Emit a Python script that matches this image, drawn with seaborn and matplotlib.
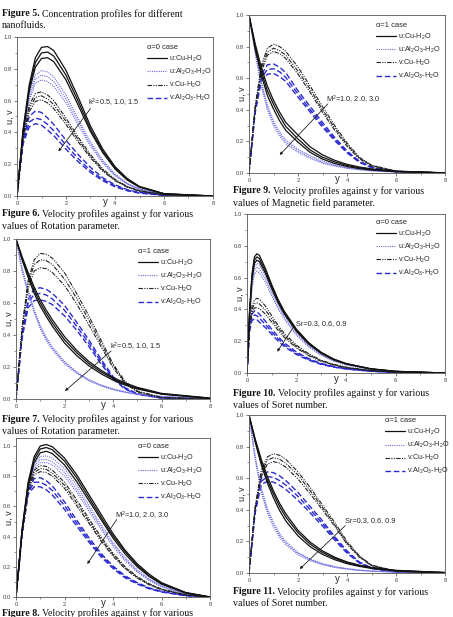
import matplotlib
matplotlib.use('Agg')
import matplotlib.pyplot as plt
import seaborn as sns
from matplotlib.lines import Line2D
from matplotlib.ticker import MultipleLocator

# ---- data (three curves per group, top to bottom) ----
# grids
y16 = [0, 0.25, 0.5, 0.75, 1, 1.25, 1.5, 2, 2.5, 3, 3.5, 4, 4.5, 5, 6, 8]
yD = [0, 0.1, 0.2, 0.3, 0.4, 0.5, 0.75, 1, 1.25, 1.5, 2, 2.5, 3, 3.5, 4, 5, 6, 8]
yE = [0, 0.25, 0.5, 0.75, 1, 1.25, 1.5, 2, 2.5, 3, 3.5, 4, 4.5, 5, 5.5, 6, 7, 8]

# panel A: alpha=0, k^2 = 0.5, 1.0, 1.5
A_uCu = [[0, .42, .70, .87, .935, .94, .915, .79, .62, .44, .295, .185, .11, .06, .015, 0],
         [0, .41, .68, .84, .90, .905, .88, .76, .595, .42, .283, .178, .105, .058, .014, 0],
         [0, .40, .66, .81, .865, .87, .845, .73, .57, .405, .272, .17, .10, .055, .013, 0]]
A_uAl = [[0, .40, .64, .76, .79, .78, .75, .635, .485, .34, .225, .138, .08, .045, .01, 0],
         [0, .39, .62, .735, .76, .75, .72, .61, .465, .327, .216, .132, .077, .043, .01, 0],
         [0, .38, .60, .71, .73, .72, .69, .585, .445, .313, .207, .127, .074, .041, .009, 0]]
A_vCu = [[0, .38, .57, .645, .655, .635, .60, .49, .37, .26, .17, .105, .06, .034, .008, 0],
         [0, .37, .55, .62, .63, .61, .575, .47, .355, .25, .163, .10, .058, .032, .008, 0],
         [0, .36, .53, .595, .605, .585, .55, .45, .34, .24, .156, .096, .055, .03, .007, 0]]
A_vAl = [[0, .36, .50, .535, .525, .49, .45, .35, .26, .18, .115, .07, .04, .022, .005, 0],
         [0, .34, .465, .49, .48, .45, .41, .32, .235, .16, .105, .064, .036, .02, .005, 0],
         [0, .33, .435, .455, .445, .415, .38, .295, .215, .148, .096, .058, .033, .018, .004, 0]]

# panel B: alpha=1, M^2 = 1.0, 2.0, 3.0
B_uCu = [[1, .82, .67, .55, .46, .385, .32, .24, .165, .115, .08, .055, .038, .026, .012, .001],
         [1, .80, .645, .52, .435, .36, .295, .215, .145, .10, .07, .048, .033, .022, .01, .001],
         [1, .785, .62, .49, .405, .33, .27, .195, .13, .088, .06, .041, .028, .019, .008, .001]]
B_uAl = [[1, .78, .58, .43, .33, .26, .21, .15, .11, .075, .052, .036, .025, .017, .008, .001],
         [1, .77, .565, .415, .315, .245, .197, .14, .10, .068, .047, .032, .022, .015, .007, .001],
         [1, .76, .55, .40, .30, .232, .185, .13, .092, .062, .043, .029, .02, .013, .006, .001]]
B_vCu = [[0, .42, .68, .79, .815, .80, .77, .67, .55, .42, .30, .19, .10, .05, .012, 0],
         [0, .41, .66, .765, .79, .775, .745, .645, .53, .40, .285, .18, .095, .047, .011, 0],
         [0, .40, .64, .745, .77, .755, .725, .625, .51, .385, .27, .17, .09, .044, .01, 0]]
B_vAl = [[0, .40, .62, .685, .69, .67, .635, .52, .42, .32, .225, .14, .075, .038, .009, 0],
         [0, .39, .60, .655, .66, .64, .605, .50, .40, .305, .215, .134, .072, .036, .008, 0],
         [0, .38, .58, .625, .63, .61, .58, .48, .385, .29, .205, .128, .068, .034, .008, 0]]

# panel C: alpha=1, k^2 = 0.5, 1.0, 1.5
C_uCu = [[1, .89, .79, .70, .62, .555, .495, .39, .305, .235, .18, .135, .10, .073, .035, .006],
         [1, .88, .775, .68, .60, .535, .475, .37, .29, .222, .17, .127, .094, .068, .032, .005],
         [1, .87, .76, .66, .58, .515, .455, .35, .272, .208, .158, .118, .087, .063, .03, .004]]
C_uAl = [[1, .82, .68, .56, .46, .385, .325, .235, .17, .122, .088, .063, .045, .032, .016, .003],
         [1, .81, .67, .55, .45, .375, .316, .228, .165, .118, .085, .061, .043, .031, .015, .002],
         [1, .80, .66, .54, .44, .365, .307, .22, .16, .114, .082, .058, .041, .029, .014, .002]]
C_vCu = [[0, .45, .74, .87, .91, .905, .88, .79, .66, .52, .37, .22, .11, .05, .01, 0],
         [0, .44, .72, .84, .87, .865, .84, .75, .63, .495, .35, .21, .105, .047, .009, 0],
         [0, .43, .69, .80, .82, .815, .79, .71, .595, .465, .33, .195, .098, .044, .008, 0]]
C_vAl = [[0, .40, .62, .69, .695, .685, .66, .585, .48, .37, .25, .14, .07, .033, .007, 0],
         [0, .39, .60, .655, .66, .65, .625, .555, .455, .35, .235, .133, .066, .031, .006, 0],
         [0, .38, .57, .615, .62, .61, .59, .52, .43, .33, .22, .125, .062, .029, .006, 0]]

# panel D: alpha=0, Sr = 0.3, 0.6, 0.9
D_uCu = [[0, .38, .62, .73, .75, .74, .655, .555, .465, .39, .275, .19, .13, .088, .06, .027, .011, 0],
         [0, .37, .60, .71, .73, .72, .64, .542, .455, .382, .268, .185, .127, .086, .058, .026, .01, 0],
         [0, .36, .585, .69, .71, .70, .625, .53, .445, .373, .262, .18, .123, .083, .057, .025, .01, 0]]
D_uAl = [[0, .35, .57, .67, .69, .68, .61, .52, .435, .365, .255, .175, .12, .08, .055, .024, .01, 0],
         [0, .34, .55, .645, .665, .655, .59, .502, .42, .352, .246, .168, .115, .077, .053, .023, .009, 0],
         [0, .33, .53, .62, .64, .63, .57, .485, .405, .34, .237, .162, .11, .074, .051, .022, .009, 0]]
D_vCu = [[0, .30, .42, .46, .47, .465, .42, .36, .30, .25, .175, .12, .08, .055, .037, .016, .006, 0],
         [0, .29, .40, .435, .44, .435, .395, .34, .285, .237, .166, .114, .077, .052, .035, .015, .006, 0],
         [0, .28, .38, .41, .41, .405, .37, .32, .27, .225, .157, .108, .073, .05, .033, .014, .005, 0]]
D_vAl = [[0, .28, .37, .39, .385, .37, .325, .275, .23, .19, .132, .09, .06, .041, .028, .012, .005, 0],
         [0, .27, .35, .365, .36, .345, .305, .258, .216, .178, .124, .085, .057, .039, .026, .011, .004, 0],
         [0, .26, .33, .34, .335, .32, .285, .242, .202, .167, .116, .08, .054, .037, .025, .011, .004, 0]]

# panel E: alpha=0, M^2 = 1.0, 2.0, 3.0
E_uCu = [[0, .45, .76, .93, 1.0, 1.01, .995, .92, .81, .68, .55, .42, .31, .22, .15, .095, .03, 0],
         [0, .44, .745, .91, .98, .99, .975, .90, .79, .66, .53, .405, .30, .21, .14, .09, .028, 0],
         [0, .43, .73, .89, .955, .965, .95, .875, .765, .64, .515, .39, .285, .20, .135, .085, .026, 0]]
E_uAl = [[0, .44, .74, .88, .93, .935, .92, .85, .74, .61, .48, .36, .26, .18, .12, .075, .022, 0],
         [0, .435, .73, .865, .91, .91, .895, .825, .715, .59, .465, .35, .25, .172, .113, .07, .02, 0],
         [0, .43, .72, .85, .89, .89, .875, .80, .695, .57, .45, .335, .24, .165, .108, .067, .019, 0]]
E_vCu = [[0, .43, .72, .84, .87, .865, .84, .76, .645, .52, .40, .29, .20, .135, .087, .053, .015, 0],
         [0, .425, .71, .825, .85, .845, .82, .74, .625, .505, .385, .28, .193, .13, .083, .05, .014, 0],
         [0, .42, .70, .81, .83, .825, .80, .72, .605, .49, .372, .27, .186, .125, .08, .048, .013, 0]]
E_vAl = [[0, .42, .70, .785, .79, .77, .735, .63, .51, .395, .29, .205, .14, .095, .06, .037, .01, 0],
         [0, .415, .69, .76, .76, .74, .705, .605, .49, .38, .278, .197, .133, .09, .057, .035, .009, 0],
         [0, .41, .68, .73, .73, .71, .675, .58, .47, .365, .267, .189, .127, .086, .054, .033, .009, 0]]

# panel F: alpha=1, Sr = 0.3, 0.6, 0.9
F_uCu = [[1, .85, .72, .61, .52, .44, .375, .27, .195, .14, .10, .07, .05, .035, .017, .003],
         [1, .84, .70, .59, .50, .42, .355, .255, .182, .13, .093, .065, .046, .032, .015, .003],
         [1, .83, .685, .57, .475, .395, .33, .235, .166, .118, .084, .059, .042, .029, .014, .002]]
F_uAl = [[1, .74, .54, .41, .32, .25, .20, .13, .088, .06, .041, .028, .019, .013, .006, .001],
         [1, .73, .525, .395, .305, .238, .19, .123, .083, .056, .038, .026, .017, .012, .005, .001],
         [1, .72, .51, .38, .29, .226, .18, .116, .078, .052, .035, .024, .016, .011, .005, .001]]
F_vCu = [[0, .42, .65, .735, .755, .745, .72, .64, .54, .43, .32, .2, .11, .05, .012, 0],
         [0, .41, .63, .715, .73, .72, .695, .62, .52, .415, .305, .19, .105, .048, .011, 0],
         [0, .40, .61, .69, .705, .695, .67, .595, .50, .40, .295, .183, .1, .046, .01, 0]]
F_vAl = [[0, .40, .60, .64, .635, .615, .585, .51, .42, .33, .23, .14, .07, .032, .007, 0],
         [0, .39, .58, .61, .605, .585, .557, .485, .40, .314, .22, .133, .067, .03, .007, 0],
         [0, .38, .56, .58, .575, .555, .53, .46, .38, .298, .208, .126, .064, .029, .006, 0]]

series_labels = ['u:Cu-H$_2$O', 'u:Al$_2$O$_3$-H$_2$O', 'v:Cu-H$_2$O', 'v:Al$_2$O$_3$-H$_2$O']

# ---- style ----
sns.set_theme(style='ticks')
plt.rcParams['font.family'] = ['Liberation Sans', 'DejaVu Sans']
plt.rcParams['mathtext.fontset'] = 'custom'
plt.rcParams['mathtext.rm'] = 'Liberation Sans'
plt.rcParams['mathtext.it'] = 'Liberation Sans:italic'
plt.rcParams['mathtext.bf'] = 'Liberation Sans:bold'

W, H = 453, 617
fig = plt.figure(figsize=(W / 100, H / 100), dpi=100)

# color, linestyle, linewidth for uCu, uAl, vCu, vAl
line_styles = [
    ('#111111', '-', 0.9),
    ('#6b6be0', (0, (1, 1)), 0.8),
    ('#222222', (0, (4, 1.2, 1, 1.2, 1, 1.2)), 0.8),
    ('#2b2bd0', (0, (4, 2)), 1.0),
]


def px_rect(left, top, right, bottom):
    return [left / W, (H - bottom) / H, (right - left) / W, (bottom - top) / H]


def draw_panel(rect, x, groups, ymax, title, leg_xy, note, text_xy, arrow_from, arrow_to):
    ax = fig.add_axes(rect)
    order = [3, 1, 2, 0]
    for gi in order:
        color, ls, lw = line_styles[gi]
        for vals in groups[gi]:
            sns.lineplot(x=x, y=vals, ax=ax, color=color, linestyle=ls, lw=lw)
    ax.set_xlim(0, 8)
    ax.set_ylim(0, ymax)
    ax.xaxis.set_major_locator(MultipleLocator(2))
    ax.xaxis.set_minor_locator(MultipleLocator(1))
    ax.yaxis.set_minor_locator(MultipleLocator(0.1))
    ax.set_yticks([0, 0.2, 0.4, 0.6, 0.8, 1.0])
    ax.set_yticklabels(['0.0', '0.2', '0.4', '0.6', '0.8', '1.0'])
    ax.tick_params(which='major', direction='out', length=2, width=0.5, pad=1.5,
                   labelsize=4.2, colors='#444444')
    ax.tick_params(which='minor', direction='out', length=1.2, width=0.4, colors='#444444')
    for sp in ax.spines.values():
        sp.set_color('#555555')
        sp.set_linewidth(0.6)
    ax.set_xlabel('y', fontsize=7, va='center')
    ax.xaxis.set_label_coords(0.45, -0.04)
    ax.set_ylabel('u, v', fontsize=6.5, va='center')
    ax.yaxis.set_label_coords(-0.035, 0.5)

    handles = [Line2D([], [], color=c, linestyle=s, lw=w) for c, s, w in line_styles]
    ax.legend(handles, series_labels, title=title, loc='upper left', bbox_to_anchor=leg_xy,
              frameon=False, fontsize=5.2, title_fontsize=5.4, handlelength=2.8,
              handletextpad=0.25, labelspacing=0.4, borderpad=0, borderaxespad=0,
              alignment='left')

    ax.text(text_xy[0], text_xy[1], note, fontsize=5.3, va='center', ha='left')
    ax.annotate('', xy=arrow_to, xytext=arrow_from,
                arrowprops=dict(arrowstyle='-|>', lw=0.6, color='#222222',
                                mutation_scale=4, shrinkA=0, shrinkB=0))
    return ax


draw_panel(px_rect(17, 37, 213, 196), y16, [A_uCu, A_uAl, A_vCu, A_vAl], 1.0,
           '\u03b1=0 case', (0.663, 0.956), 'k$^2$=0.5, 1.0, 1.5',
           (2.9, 0.585), (3.0, 0.55), (1.69, 0.28))
draw_panel(px_rect(249, 15, 445, 173), y16, [B_uCu, B_uAl, B_vCu, B_vAl], 1.0,
           '\u03b1=1 case', (0.648, 0.956), 'M$^2$=1.0, 2.0, 3.0',
           (3.14, 0.46), (3.22, 0.437), (1.25, 0.114))
draw_panel(px_rect(16, 239, 210, 399), y16, [C_uCu, C_uAl, C_vCu, C_vAl], 1.0,
           '\u03b1=1 case', (0.629, 0.944), 'k$^2$=0.5, 1.0, 1.5',
           (3.88, 0.327), (3.92, 0.30), (2.02, 0.05))
draw_panel(px_rect(247, 214, 445, 373), yD, [D_uCu, D_uAl, D_vCu, D_vAl], 1.0,
           '\u03b1=0 case', (0.652, 0.969), 'Sr=0.3, 0.6, 0.9',
           (1.99, 0.31), (1.87, 0.287), (1.22, 0.134))
draw_panel(px_rect(16, 438, 210, 597), yE, [E_uCu, E_uAl, E_vCu, E_vAl], 1.053,
           '\u03b1=0 case', (0.629, 0.969), 'M$^2$=1.0, 2.0, 3.0',
           (4.08, 0.54), (4.15, 0.513), (2.94, 0.218))
draw_panel(px_rect(249, 415, 445, 573), y16, [F_uCu, F_uAl, F_vCu, F_vAl], 1.0,
           '\u03b1=1 case', (0.694, 0.987), 'Sr=0.3, 0.6, 0.9',
           (3.9, 0.335), (3.93, 0.30), (2.07, 0.025))

# ---- captions ----
renderer = fig.canvas.get_renderer()
cap_font = dict(family='Liberation Serif', fontsize=7.1, va='center', color='#111111')


def caption(x_px, y_px, num, line1, line2=None):
    t = fig.text(x_px / W, 1 - y_px / H, 'Figure %s.' % num, fontweight='bold', **cap_font)
    bb = t.get_window_extent(renderer)
    fig.text((bb.x1 + 2.5) / W, 1 - y_px / H, line1, **cap_font)
    if line2:
        fig.text(x_px / W, 1 - (y_px + 12) / H, line2, **cap_font)


caption(2, 14, '5', 'Concentration profiles for different', 'nanofluids.')
caption(2, 214, '6', 'Velocity profiles against y for various', 'values of Rotation parameter.')
caption(2, 419, '7', 'Velocity profiles against y for various', 'values of Rotation parameter.')
caption(2, 613, '8', 'Velocity profiles against y for various')
caption(233, 191, '9', 'Velocity profiles against y for various', 'values of Magnetic field parameter.')
caption(233, 393, '10', 'Velocity profiles against y for various', 'values of Soret number.')
caption(233, 592, '11', 'Velocity profiles against y for various', 'values of Soret number.')

fig.savefig('out.png', dpi=100)
